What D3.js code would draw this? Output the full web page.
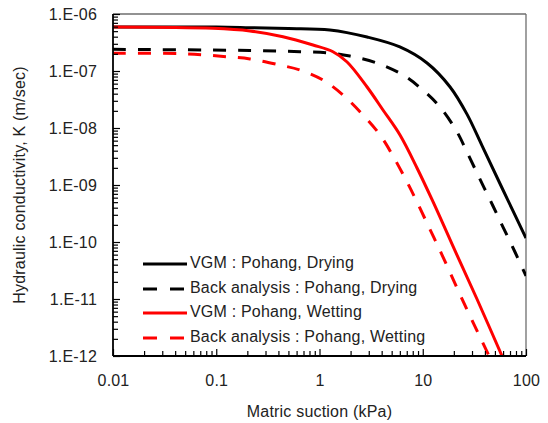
<!DOCTYPE html>
<html>
<head>
<meta charset="utf-8">
<script src="https://cdn.jsdelivr.net/npm/d3@7"></script>
<style>
  html, body { margin: 0; padding: 0; background: #fff; }
  svg { display: block; font-family: "Liberation Sans", Arial, sans-serif; }
  text { letter-spacing: 0.2px; }
</style>
</head>
<body>
<svg id="chart" width="548" height="423"></svg>
<script>
// ---- data ----
const vgmDryS   = [0.01, 0.1, 0.212, 0.5, 1.26, 2.89, 6.0, 11.0, 18.4, 26.8, 37.5, 59.9, 100];
const vgmDryK   = [5.92e-7, 5.9e-7, 5.75e-7, 5.56e-7, 5.24e-7, 3.94e-7, 2.64e-7, 1.38e-7, 5.24e-8, 1.75e-8, 4.9e-9, 8.17e-10, 1.17e-10];

const backDryS  = [0.01, 0.212, 0.647, 1.26, 1.97, 3.61, 6.44, 10.0, 14.7, 21.5, 26.8, 35.8, 47.9, 59.9, 78.2, 100];
const backDryK  = [2.40e-7, 2.29e-7, 2.18e-7, 2.07e-7, 1.83e-7, 1.38e-7, 8.51e-8, 4.65e-8, 2.33e-8, 8.51e-9, 3.79e-9, 1.27e-9, 4.28e-10, 1.83e-10, 6.68e-11, 2.54e-11];

const vgmWetS   = [0.01, 0.093, 0.212, 0.443, 0.865, 1.35, 1.85, 2.89, 4.12, 6.02, 8.80, 12.6, 17.2, 23.0, 33.5, 58.6];
const vgmWetK   = [5.92e-7, 5.61e-7, 5.04e-7, 4.00e-7, 2.86e-7, 2.18e-7, 1.44e-7, 5.24e-8, 2.07e-8, 7.53e-9, 1.99e-9, 5.04e-10, 1.44e-10, 4.46e-11, 1.0e-11, 1e-12];

const backWetS  = [0.01, 0.0446, 0.127, 0.212, 0.414, 0.647, 1.08, 1.69, 2.64, 3.86, 5.15, 7.04, 8.80, 11.7, 15.4, 24.5, 43.9];
const backWetK  = [2.04e-7, 2.02e-7, 1.78e-7, 1.63e-7, 1.27e-7, 1.04e-7, 6.95e-8, 3.79e-8, 1.69e-8, 7.53e-9, 3.23e-9, 1.13e-9, 5.04e-10, 1.69e-10, 5.91e-11, 9.23e-12, 1e-12];

const seriesNames = [
  "VGM : Pohang, Drying",
  "Back analysis : Pohang, Drying",
  "VGM : Pohang, Wetting",
  "Back analysis : Pohang, Wetting"
];
const xTickValues = [0.01, 0.1, 1, 10, 100];
const xTickLabels = ["0.01", "0.1", "1", "10", "100"];
const yTickValues = [1e-12, 1e-11, 1e-10, 1e-9, 1e-8, 1e-7, 1e-6];
const yTickLabels = ["1.E-12", "1.E-11", "1.E-10", "1.E-09", "1.E-08", "1.E-07", "1.E-06"];
const xTitle = "Matric suction (kPa)";
const yTitle = "Hydraulic conductivity, K (m/sec)";

// ---- layout ----
const L = 113, R = 526, T = 14, B = 356;
const FS = 16;
const svg = d3.select("#chart");

const x = d3.scaleLog().domain([0.01, 100]).range([L, R]);
const y = d3.scaleLog().domain([1e-12, 1e-6]).range([B, T]);

const series = [
  {s: vgmDryS,  k: vgmDryK,  color: "#000000", dash: null},
  {s: backDryS, k: backDryK, color: "#000000", dash: "13,12"},
  {s: vgmWetS,  k: vgmWetK,  color: "#ff0000", dash: null},
  {s: backWetS, k: backWetK, color: "#ff0000", dash: "13,12"}
];

function minors(lo, hi) {
  const out = [];
  for (let e = lo; e < hi; e++) for (let m = 2; m <= 9; m++) out.push(m * Math.pow(10, e));
  return out;
}
const xMinor = minors(-2, 2);
const yMinor = minors(-12, -6);

svg.append("defs").append("clipPath").attr("id", "clip")
  .append("rect").attr("x", L).attr("y", T).attr("width", R - L).attr("height", B - T);

// frame (top & right gray)
svg.append("line").attr("x1", L).attr("x2", R).attr("y1", T).attr("y2", T)
  .attr("stroke", "#6e6e6e").attr("stroke-width", 1.3);
svg.append("line").attr("x1", R).attr("x2", R).attr("y1", T).attr("y2", B)
  .attr("stroke", "#6e6e6e").attr("stroke-width", 1.3);

// curves
const line = d3.line()
  .x(d => x(d[0])).y(d => y(d[1]))
  .curve(d3.curveCatmullRom.alpha(0.5));

const gCurves = svg.append("g").attr("clip-path", "url(#clip)");
series.forEach(sr => {
  const pts = sr.s.map((v, i) => [v, sr.k[i]]);
  gCurves.append("path")
    .attr("d", line(pts))
    .attr("fill", "none")
    .attr("stroke", sr.color)
    .attr("stroke-width", 3)
    .attr("stroke-dasharray", sr.dash)
    .attr("stroke-linejoin", "round");
});

const axisStyle = g => {
  g.select(".domain").remove();
  g.selectAll(".tick line").attr("stroke", "#000").attr("stroke-width", 1.2);
};

// y axis
const yAx = svg.append("g").attr("transform", `translate(${L},0)`)
  .call(d3.axisLeft(y).tickValues(yTickValues).tickSizeInner(-7).tickSizeOuter(0)
    .tickPadding(16).tickFormat((d, i) => yTickLabels[i]));
axisStyle(yAx);
yAx.selectAll(".tick text").attr("font-size", FS).attr("fill", "#222")
  .attr("font-family", "'Liberation Sans', Arial, sans-serif");
const yMin = svg.append("g").attr("transform", `translate(${L},0)`)
  .call(d3.axisLeft(y).tickValues(yMinor).tickSizeInner(-5).tickSizeOuter(0).tickFormat(""));
axisStyle(yMin);

// x axis
const xAx = svg.append("g").attr("transform", `translate(0,${B})`)
  .call(d3.axisBottom(x).tickValues(xTickValues).tickSizeInner(-7).tickSizeOuter(0)
    .tickPadding(19).tickFormat((d, i) => xTickLabels[i]));
axisStyle(xAx);
xAx.selectAll(".tick text").attr("font-size", FS).attr("fill", "#222")
  .attr("font-family", "'Liberation Sans', Arial, sans-serif");
const xMin = svg.append("g").attr("transform", `translate(0,${B})`)
  .call(d3.axisBottom(x).tickValues(xMinor).tickSizeInner(-5).tickSizeOuter(0).tickFormat(""));
axisStyle(xMin);

// axis lines
svg.append("line").attr("x1", L).attr("x2", L).attr("y1", T).attr("y2", B)
  .attr("stroke", "#000").attr("stroke-width", 1.8);
svg.append("line").attr("x1", L).attr("x2", R).attr("y1", B).attr("y2", B)
  .attr("stroke", "#000").attr("stroke-width", 1.8);

// titles
svg.append("text").attr("x", (L + R) / 2).attr("y", 413)
  .attr("text-anchor", "middle").attr("dominant-baseline", "middle")
  .attr("font-size", FS).attr("fill", "#222").text(xTitle);
svg.append("text")
  .attr("transform", `translate(21,${(T + B) / 2}) rotate(-90)`)
  .attr("text-anchor", "middle").attr("dominant-baseline", "middle")
  .attr("font-size", FS).attr("fill", "#222").text(yTitle);

// legend
const legY = [264, 289, 313, 338];
const leg = svg.append("g");
series.forEach((sr, i) => {
  leg.append("line").attr("x1", 143).attr("x2", 187).attr("y1", legY[i]).attr("y2", legY[i])
    .attr("stroke", sr.color).attr("stroke-width", 3)
    .attr("stroke-dasharray", sr.dash ? "14,13" : null);
  leg.append("text").attr("x", 190).attr("y", legY[i])
    .attr("dominant-baseline", "middle").attr("font-size", FS).attr("fill", "#222")
    .text(seriesNames[i]);
});
</script>
</body>
</html>
